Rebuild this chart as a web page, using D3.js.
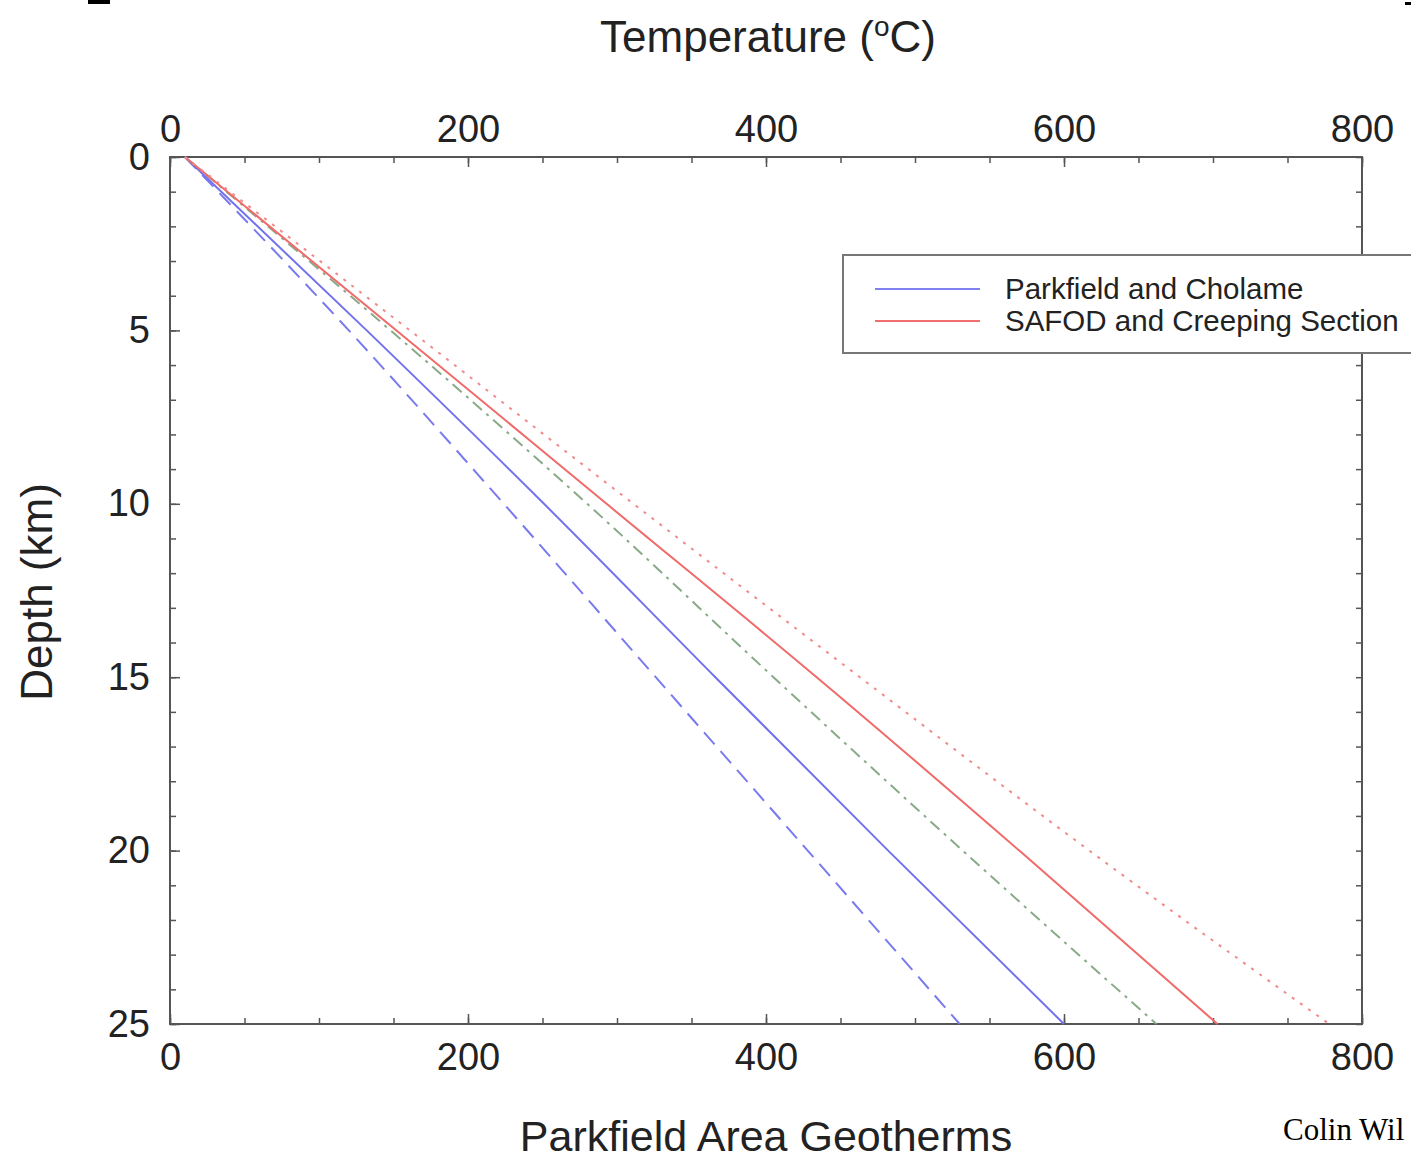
<!DOCTYPE html>
<html>
<head>
<meta charset="utf-8">
<script src="https://cdn.jsdelivr.net/npm/d3@7"></script>
<style>
  body { margin: 0; background: #fff; overflow: hidden; }
  svg { display: block; font-family: "Liberation Sans", Arial, Helvetica, sans-serif; }
</style>
</head>
<body>
<svg id="chart"></svg>
<script>
// depth (km) at which the temperatures were read
const depths = [0, 5, 10, 15, 20, 25];
// temperature (deg C) of each geotherm at those depths
const parkfieldLow = [10, 120, 224, 326, 428, 530];   // blue dashed
const parkfield = [10, 132, 251, 366, 482, 600];      // blue solid
const middle = [10, 148, 280, 405, 532, 662];         // green dash-dot
const safod = [10, 152, 293, 434, 570, 703];          // red solid
const safodHigh = [10, 161, 311, 463, 617, 778];      // red dotted

const legendLabels = ["Parkfield and Cholame", "SAFOD and Creeping Section"];
const tempTicks = [0, 200, 400, 600, 800];
const depthTicks = [0, 5, 10, 15, 20, 25];

const width = 1411, height = 1162;
const svg = d3.select("#chart").attr("width", width).attr("height", height);

const x = d3.scaleLinear().domain([0, 800]).range([170, 1362]);
const y = d3.scaleLinear().domain([0, 25]).range([157, 1024]);

const axisColor = "#555";

// minor ticks, all four sides, pointing in
function minor(g) {
  g.selectAll("text").remove();
  g.select(".domain").remove();
  g.selectAll("line").attr("stroke", axisColor).attr("stroke-width", 1.5);
}
svg.append("g").attr("transform", "translate(0,157)")
  .call(d3.axisTop(x).tickValues(d3.range(0, 801, 50)).tickSize(-6)).call(minor);
svg.append("g").attr("transform", "translate(0,1024)")
  .call(d3.axisBottom(x).tickValues(d3.range(0, 801, 50)).tickSize(-6)).call(minor);
svg.append("g").attr("transform", "translate(170,0)")
  .call(d3.axisLeft(y).tickValues(d3.range(0, 26, 1)).tickSize(-6)).call(minor);
svg.append("g").attr("transform", "translate(1362,0)")
  .call(d3.axisRight(y).tickValues(d3.range(0, 26, 1)).tickSize(-6)).call(minor);

// labelled axes
function major(g) {
  g.select(".domain").remove();
  g.selectAll("line").attr("stroke", axisColor).attr("stroke-width", 1.5);
  g.selectAll("text").attr("fill", "#222").style("font-size", "38px")
    .style("font-family", "'Liberation Sans', Arial, sans-serif");
}
svg.append("g").attr("transform", "translate(0,157)")
  .call(d3.axisTop(x).tickValues(tempTicks).tickSize(-10).tickPadding(15)).call(major);
svg.append("g").attr("transform", "translate(0,1024)")
  .call(d3.axisBottom(x).tickValues(tempTicks).tickSize(-10).tickPadding(19)).call(major);
svg.append("g").attr("transform", "translate(170,0)")
  .call(d3.axisLeft(y).tickValues(depthTicks).tickSize(-10).tickPadding(20)).call(major);

// frame
svg.append("rect")
  .attr("x", x(0)).attr("y", y(0))
  .attr("width", x(800) - x(0)).attr("height", y(25) - y(0))
  .attr("fill", "none").attr("stroke", axisColor).attr("stroke-width", 2);

const series = [
  { vals: parkfieldLow, color: "#7a7af0", dash: "16,9" },
  { vals: parkfield, color: "#7272ee", dash: null },
  { vals: middle, color: "#88aa88", dash: "12,6,3,6" },
  { vals: safod, color: "#f06a6a", dash: null },
  { vals: safodHigh, color: "#f08a8a", dash: "3,7" }
];

const line = d3.line()
  .x(d => x(d[0]))
  .y(d => y(d[1]))
  .curve(d3.curveMonotoneY);

svg.append("g").selectAll("path")
  .data(series)
  .enter().append("path")
  .attr("d", s => line(s.vals.map((t, i) => [t, depths[i]])))
  .attr("fill", "none")
  .attr("stroke", s => s.color)
  .attr("stroke-width", 2)
  .attr("stroke-dasharray", s => s.dash);

// legend
const legend = svg.append("g").attr("transform", "translate(843,255)");
legend.append("rect")
  .attr("width", 600).attr("height", 98)
  .attr("fill", "#fff").attr("stroke", "#777").attr("stroke-width", 2);
const legendColors = ["#8080f0", "#f07070"];
legendLabels.forEach((lab, i) => {
  legend.append("line")
    .attr("x1", 32).attr("x2", 137)
    .attr("y1", 34 + i * 32).attr("y2", 34 + i * 32)
    .attr("stroke", legendColors[i]).attr("stroke-width", 2);
  legend.append("text")
    .attr("x", 162).attr("y", 34 + i * 32).attr("dy", "0.35em")
    .style("font-size", "29.5px").attr("fill", "#222")
    .text(lab);
});

// titles
const title = svg.append("text")
  .attr("x", 768).attr("y", 52)
  .attr("text-anchor", "middle")
  .style("font-size", "44px").attr("fill", "#222");
title.append("tspan").text("Temperature (");
title.append("tspan").attr("dy", -16).style("font-size", "28px").text("o");
title.append("tspan").attr("dy", 16).text("C)");

svg.append("text")
  .attr("x", 766).attr("y", 1151)
  .attr("text-anchor", "middle")
  .style("font-size", "43px").attr("fill", "#222")
  .text("Parkfield Area Geotherms");

svg.append("text")
  .attr("transform", "translate(52,592) rotate(-90)")
  .attr("text-anchor", "middle")
  .style("font-size", "44px").attr("fill", "#222")
  .text("Depth (km)");

// bits of the surrounding slide that show at the edges
svg.append("text")
  .attr("x", 1283).attr("y", 1140)
  .style("font-family", "'Liberation Serif', 'Times New Roman', serif")
  .style("font-size", "31px").attr("fill", "#000")
  .text("Colin Wil");
svg.append("rect").attr("x", 88).attr("y", 0).attr("width", 22).attr("height", 4).attr("fill", "#000");
svg.append("rect").attr("x", 1405).attr("y", 2).attr("width", 6).attr("height", 3).attr("fill", "#000");
</script>
</body>
</html>
